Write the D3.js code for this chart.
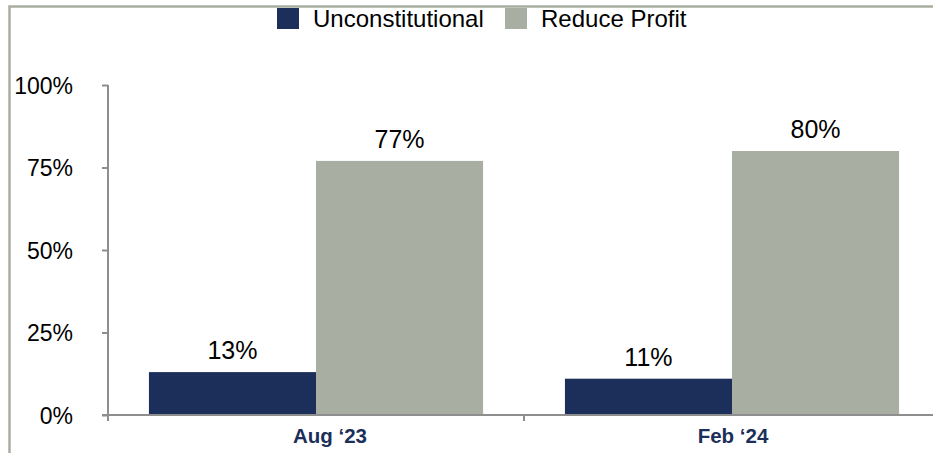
<!DOCTYPE html>
<html>
<head>
<meta charset="utf-8">
<script src="https://cdn.jsdelivr.net/npm/d3@7"></script>
<style>
  body { margin: 0; background: #fff; }
  svg { display: block; font-family: Arial, "Liberation Sans", sans-serif; }
</style>
</head>
<body>
<svg id="chart" width="933" height="453"></svg>
<script>
var categories = ["Aug \u201823", "Feb \u201824"];
var seriesNames = ["Unconstitutional", "Reduce Profit"];
var unconstitutional = [13, 11];
var reduceProfit = [77, 80];
var yTicks = [0, 25, 50, 75, 100];

var colors = { "Unconstitutional": "#1b2f5a", "Reduce Profit": "#a8aea2" };

var data = categories.map(function(c, i) {
  return { category: c, values: [
    { name: "Unconstitutional", value: unconstitutional[i] },
    { name: "Reduce Profit", value: reduceProfit[i] }
  ]};
});

var svg = d3.select("#chart");

// outer frame (clipped by page on right/bottom)
svg.append("rect")
    .attr("x", 9.5).attr("y", 6.5)
    .attr("width", 960).attr("height", 480)
    .attr("fill", "none")
    .attr("stroke", "#a9aea3")
    .attr("stroke-width", 2.5);

var plotLeft = 108, plotRight = 940, plotTop = 85, plotBottom = 415;

var x0 = d3.scaleBand().domain(categories).range([plotLeft, plotRight]);
var x1 = d3.scaleBand().domain(seriesNames).range([0, x0.bandwidth()]).paddingOuter(0.245);
var y = d3.scaleLinear().domain([0, 100]).range([plotBottom, plotTop]);

function drawBars() {
  var groups = svg.selectAll(".group")
      .data(data)
      .enter().append("g")
      .attr("class", "group")
      .attr("transform", function(d) { return "translate(" + x0(d.category) + ",0)"; });

  groups.selectAll("rect")
      .data(function(d) { return d.values; })
      .enter().append("rect")
      .attr("x", function(d) { return x1(d.name); })
      .attr("width", x1.bandwidth())
      .attr("y", function(d) { return y(d.value); })
      .attr("height", function(d) { return plotBottom - y(d.value); })
      .attr("fill", function(d) { return colors[d.name]; });

  groups.selectAll("text")
      .data(function(d) { return d.values; })
      .enter().append("text")
      .attr("x", function(d) { return x1(d.name) + x1.bandwidth() / 2; })
      .attr("y", function(d) { return y(d.value) - 13; })
      .attr("text-anchor", "middle")
      .style("font-size", "25px")
      .style("fill", "#000")
      .text(function(d) { return d.value + "%"; });
}

function drawYAxis() {
  var yAxis = d3.axisLeft(y)
      .tickValues(yTicks)
      .tickSize(6)
      .tickPadding(30)
      .tickFormat(function(d) { return d + "%"; });

  var g = svg.append("g")
      .attr("class", "y axis")
      .attr("transform", "translate(" + plotLeft + ",0)")
      .call(yAxis);
  g.select(".domain").remove();
  g.append("line")
      .attr("x1", 0).attr("x2", 0)
      .attr("y1", plotTop).attr("y2", plotBottom + 6)
      .attr("stroke", "#8e8e8e").attr("stroke-width", 2);
  g.selectAll(".tick line").attr("stroke", "#8e8e8e").attr("stroke-width", 2);
  g.selectAll(".tick text")
      .style("font-size", "23px")
      .style("fill", "#000")
      .attr("dy", "0.36em")
      .attr("x", -35);
}

function drawXAxis() {
  var g = svg.append("g")
      .attr("class", "x axis");
  g.append("line")
      .attr("x1", plotLeft - 6).attr("x2", 960)
      .attr("y1", plotBottom).attr("y2", plotBottom)
      .attr("stroke", "#8e8e8e").attr("stroke-width", 2);
  // divider ticks between categories
  g.selectAll(".divider")
      .data(categories.slice(1))
      .enter().append("line")
      .attr("class", "divider")
      .attr("x1", function(d) { return x0(d); })
      .attr("x2", function(d) { return x0(d); })
      .attr("y1", plotBottom).attr("y2", plotBottom + 6)
      .attr("stroke", "#8e8e8e").attr("stroke-width", 2);
  var labelShift = [222, 209];
  g.selectAll(".label")
      .data(categories)
      .enter().append("text")
      .attr("class", "label")
      .attr("x", function(d, i) { return x0(d) + labelShift[i]; })
      .attr("y", 443)
      .attr("text-anchor", "middle")
      .style("font-size", "20.5px")
      .style("font-weight", "bold")
      .style("fill", "#1b2f5a")
      .text(function(d) { return d; });
}

function drawLegend() {
  var legendX = [277, 505];
  var lg = svg.selectAll(".legend")
      .data(seriesNames)
      .enter().append("g")
      .attr("class", "legend")
      .attr("transform", function(d, i) { return "translate(" + legendX[i] + ",0)"; });
  lg.append("rect")
      .attr("x", 0).attr("y", 8)
      .attr("width", 22).attr("height", 21)
      .attr("fill", function(d) { return colors[d]; });
  lg.append("text")
      .attr("x", 36).attr("y", 27)
      .style("font-size", "24px")
      .style("fill", "#000")
      .text(function(d) { return d; });
}

drawBars();
drawYAxis();
drawXAxis();
drawLegend();
</script>
</body>
</html>
